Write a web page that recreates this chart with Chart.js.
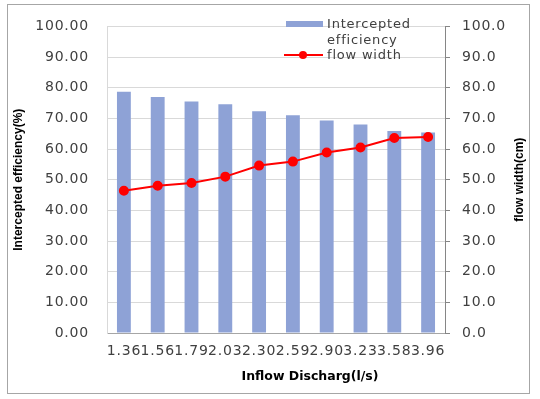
<!DOCTYPE html>
<html>
<head>
<meta charset="utf-8">
<script src="https://cdn.jsdelivr.net/npm/chart.js@4.4.1/dist/chart.umd.min.js"></script>
<style>
  html, body { margin: 0; padding: 0; background: #fff; }
  #wrap { position: relative; width: 540px; height: 399px; }
</style>
</head>
<body>
<div id="wrap"><canvas id="chart" width="540" height="399"></canvas></div>
<script>
// 데이터
const categories = ['1.36', '1.56', '1.79', '2.03', '2.30', '2.59', '2.90', '3.23', '3.58', '3.96'];
const efficiency = [78.7, 77.0, 75.5, 74.6, 72.3, 71.0, 69.3, 68.0, 65.9, 65.4];
const flowWidth = [46.4, 48.0, 48.9, 51.0, 54.6, 55.9, 58.9, 60.5, 63.6, 63.9];
const efficiencyLabel = ['Intercepted', 'efficiency'];
const flowLabel = 'flow width';

const barColor = '#8ea2d6';
const lineColor = '#ff0000';
const tickFont = { family: 'DejaVu Sans', size: 14 };
const tickColor = '#404040';
const spacing = '0.8px';

// 글자 간격 (캔버스 상태가 초기화될 수 있으므로 매번 설정)
const letterSpace = {
    id: 'letterSpace',
    beforeUpdate(chart) { chart.ctx.letterSpacing = spacing; },
    beforeLayout(chart) { chart.ctx.letterSpacing = spacing; },
    beforeDraw(chart) { chart.ctx.letterSpacing = spacing; }
};

// 세로 글자 (아래에서 위로)
function verticalText(ctx, text, x, y) {
    ctx.save();
    ctx.translate(x, y);
    ctx.rotate(-Math.PI / 2);
    ctx.fillText(text, 0, 0);
    ctx.restore();
}

// 바깥 테두리 + 범례 + 축 제목
const extras = {
    id: 'extras',
    beforeDraw(chart) {
        const ctx = chart.ctx;
        ctx.save();
        ctx.strokeStyle = '#a6a6a6';
        ctx.lineWidth = 1;
        ctx.strokeRect(7.5, 4.5, 522, 389);
        ctx.restore();
    },
    afterDraw(chart) {
        const ctx = chart.ctx;
        const area = chart.chartArea;
        const midY = (area.top + area.bottom) / 2;
        ctx.save();
        // 범례
        ctx.fillStyle = barColor;
        ctx.fillRect(286, 21, 37, 6);
        ctx.font = '13px "DejaVu Sans"';
        ctx.letterSpacing = spacing;
        ctx.fillStyle = tickColor;
        ctx.textBaseline = 'middle';
        ctx.textAlign = 'left';
        ctx.fillText(efficiencyLabel[0], 327, 24.5);
        ctx.fillText(efficiencyLabel[1], 327, 41);
        ctx.fillText(flowLabel, 327, 55.5);
        ctx.strokeStyle = lineColor;
        ctx.lineWidth = 2;
        ctx.beginPath();
        ctx.moveTo(284, 55);
        ctx.lineTo(323, 55);
        ctx.stroke();
        ctx.fillStyle = lineColor;
        ctx.beginPath();
        ctx.arc(303, 55, 4, 0, Math.PI * 2);
        ctx.fill();

        // 축 제목
        ctx.letterSpacing = '0px';
        ctx.fillStyle = '#000';
        ctx.textAlign = 'center';
        ctx.font = 'bold 12px "Liberation Sans", sans-serif';
        verticalText(ctx, 'Intercepted efficiency(%)', 19, midY);
        verticalText(ctx, 'flow width(cm)', 520, midY);
        ctx.font = 'bold 12.5px "DejaVu Sans", sans-serif';
        ctx.fillText('Inflow Discharg(l/s)', 310, 377);
        ctx.restore();
    }
};

const ctx = document.getElementById('chart').getContext('2d');

new Chart(ctx, {
    data: {
        labels: categories,
        datasets: [
            {
                type: 'line',
                label: flowLabel,
                data: flowWidth,
                yAxisID: 'y1',
                borderColor: lineColor,
                backgroundColor: lineColor,
                borderWidth: 2,
                pointRadius: 4,
                pointHoverRadius: 4,
                tension: 0,
                order: 0
            },
            {
                type: 'bar',
                label: efficiencyLabel.join(' '),
                data: efficiency,
                yAxisID: 'y',
                backgroundColor: barColor,
                barPercentage: 0.41,
                categoryPercentage: 1,
                order: 1
            }
        ]
    },
    options: {
        responsive: false,
        animation: false,
        layout: { padding: { top: 19, left: 0, right: 0, bottom: 0 } },
        plugins: {
            legend: { display: false },
            tooltip: { enabled: false }
        },
        scales: {
            x: {
                grid: { display: false, drawTicks: false },
                border: { color: '#a6a6a6' },
                ticks: {
                    font: tickFont,
                    color: tickColor,
                    autoSkip: false,
                    maxRotation: 0,
                    minRotation: 0,
                    padding: 10
                },
                afterFit(scale) { scale.height = 66; }
            },
            y: {
                position: 'left',
                min: 0,
                max: 100,
                ticks: {
                    stepSize: 10,
                    font: tickFont,
                    color: tickColor,
                    padding: 18,
                    callback: v => v.toFixed(2)
                },
                grid: { color: '#d9d9d9', drawTicks: false },
                border: { color: '#d9d9d9' },
                afterFit(scale) { scale.width = 107; }
            },
            y1: {
                position: 'right',
                min: 0,
                max: 100,
                ticks: {
                    stepSize: 10,
                    font: tickFont,
                    color: tickColor,
                    padding: 12,
                    callback: v => v.toFixed(1)
                },
                grid: { drawOnChartArea: false, tickLength: 5, color: '#868686' },
                border: { color: '#868686' },
                afterFit(scale) { scale.width = 95; }
            }
        }
    },
    plugins: [letterSpace, extras]
});
</script>
</body>
</html>
